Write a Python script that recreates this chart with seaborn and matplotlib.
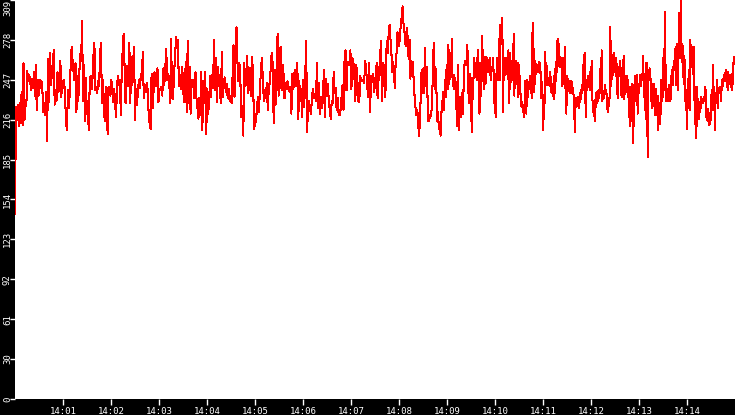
import numpy as np
import pandas as pd
import matplotlib
matplotlib.use('Agg')
import matplotlib.pyplot as plt
import matplotlib.dates as mdates
import seaborn as sns

# readings, one list per 2.5 minute slice (14:00:00 -> 14:15:00)
slice_1 = [143, 226, 220, 228, 211, 229, 214, 238, 212, 260, 216, 230, 227, 254, 246, 251, 247, 239, 248, 241,
           253, 235, 259, 224, 247, 235, 247, 241, 246, 239, 222, 229, 220, 238, 200, 263, 230, 268, 243, 252,
           260, 270, 228, 239, 231, 253, 238, 247, 262, 234, 246, 241, 247, 234, 215, 208, 239, 225, 238, 261,
           273, 261, 253, 247, 260, 222, 250, 231, 251, 267, 262, 293, 231, 259, 215, 249, 221, 231, 208, 242,
           250, 240, 248, 266, 276, 239, 242, 237, 246, 242, 266, 276, 229, 247, 227, 215, 242, 240, 205, 242,
           241, 235, 247, 239, 230, 240, 228, 218, 244, 250, 243, 247, 220, 256, 271, 283, 255, 229, 246, 258,
           242, 276, 229, 265, 243, 260, 273]
slice_2 = [216, 240, 228, 237, 247, 241, 252, 247, 269, 233, 242, 238, 245, 239, 221, 213, 209, 252, 225, 238,
           253, 242, 247, 256, 230, 240, 239, 242, 235, 256, 243, 255, 271, 247, 252, 247, 229, 279, 234, 232,
           253, 263, 280, 274, 278, 242, 250, 240, 257, 251, 230, 237, 261, 222, 277, 229, 257, 221, 246, 247,
           241, 233, 253, 233, 226, 217, 233, 220, 253, 208, 246, 229, 253, 205, 240, 221, 231, 250, 234, 251,
           241, 278, 239, 264, 230, 257, 247, 239, 229, 269, 234, 247, 249, 238, 244, 233, 240, 231, 235, 229,
           250, 274, 234, 269, 288, 261, 246, 260, 247, 218, 227, 204, 260, 242, 246, 266, 237, 242, 256, 235,
           265, 251, 209]
slice_3 = [213, 216, 225, 234, 222, 240, 254, 264, 247, 231, 239, 233, 245, 224, 241, 245, 256, 268, 259, 214,
           255, 228, 259, 283, 235, 261, 273, 239, 259, 252, 233, 245, 240, 246, 242, 238, 242, 221, 252, 240,
           252, 255, 242, 260, 217, 246, 231, 240, 218, 247, 226, 248, 277, 207, 230, 231, 224, 221, 235, 240,
           233, 234, 231, 260, 225, 245, 221, 234, 225, 231, 255, 218, 248, 235, 244, 231, 224, 217, 231, 229,
           253, 237, 241, 224, 233, 221, 220, 224, 234, 243, 224, 261, 270, 239, 261, 259, 259, 270, 240, 264,
           261, 251, 231, 259, 248, 231, 230, 250, 247, 246, 247, 245, 262, 255, 243, 234, 260, 222, 250, 246,
           252, 238]
slice_4 = [243, 253, 260, 233, 257, 247, 266, 277, 231, 260, 242, 259, 234, 268, 277, 268, 287, 290, 278, 268,
           253, 261, 252, 241, 263, 268, 284, 275, 273, 283, 290, 296, 304, 291, 286, 275, 273, 287, 278, 263,
           278, 248, 262, 260, 261, 242, 233, 225, 220, 224, 213, 204, 215, 235, 255, 237, 256, 237, 272, 242,
           257, 229, 215, 220, 218, 220, 228, 252, 276, 240, 257, 244, 215, 222, 209, 211, 204, 222, 229, 238,
           224, 247, 234, 259, 240, 274, 244, 257, 249, 279, 242, 251, 240, 249, 234, 211, 259, 208, 234, 229,
           218, 237, 221, 256, 260, 262, 259, 274, 240, 229, 252, 247, 207, 234, 247, 264, 249, 255, 247, 270,
           257, 221, 260, 235, 281, 260, 240, 265, 244, 265, 261, 253, 260, 264, 247, 257, 255, 264, 229]
slice_5 = [234, 218, 247, 264, 247, 259, 279, 247, 290, 281, 287, 295, 222, 259, 247, 264, 253, 257, 264, 248,
           270, 229, 268, 240, 262, 247, 261, 247, 283, 235, 259, 244, 262, 248, 260, 234, 259, 247, 238, 230,
           226, 230, 222, 225, 218, 246, 235, 221, 247, 234, 239, 242, 247, 250, 248, 233, 281, 291, 266, 238,
           262, 259, 252, 259, 256, 253, 261, 253, 260, 233, 246, 244, 208, 226, 217, 269, 243, 260, 253, 247,
           243, 248, 242, 253, 238, 240, 237, 244, 232, 250, 237, 261, 246, 277, 268, 279, 261, 257, 265, 261,
           262, 242, 264, 259, 244, 273, 231, 221, 250, 243, 248, 243, 237, 246, 242, 246, 237, 241, 234, 220,
           207, 233, 226, 230, 231, 234, 225, 237, 230, 239, 237, 237, 259, 239, 266, 268, 218, 244, 239, 250,
           242, 248, 239, 253, 241, 262, 233, 226, 221, 220, 215, 237, 226, 238, 231, 239, 233, 238, 256, 243,
           270, 231, 237, 233, 237, 243, 238, 238, 231, 222, 226, 230, 234, 288, 242, 259, 248, 261, 268, 256]
slice_6 = [262, 250, 264, 246, 233, 257, 252, 250, 262, 240, 234, 246, 252, 266, 232, 250, 239, 247, 250, 234,
           247, 218, 242, 211, 227, 234, 244, 198, 216, 241, 250, 231, 250, 251, 221, 239, 237, 246, 251, 242,
           252, 247, 266, 247, 237, 224, 260, 217, 260, 187, 255, 250, 256, 253, 231, 244, 225, 239, 244, 229,
           220, 240, 225, 220, 235, 208, 229, 224, 213, 247, 244, 231, 242, 271, 239, 300, 243, 231, 240, 234,
           231, 243, 234, 231, 235, 255, 252, 243, 262, 255, 265, 273, 243, 275, 239, 262, 299, 273, 264, 309,
           261, 275, 268, 244, 266, 253, 224, 239, 209, 231, 246, 255, 224, 278, 264, 273, 259, 252, 273, 238,
           213, 242, 202, 242, 229, 226, 217, 230, 222, 234, 231, 232, 229, 234, 231, 242, 239, 218, 217, 215,
           225, 212, 221, 213, 226, 239, 224, 259, 224, 242, 208, 237, 231, 247, 225, 239, 238, 242, 239, 231,
           242, 247, 242, 250, 251, 246, 255, 247, 250, 239, 253, 244, 248, 251, 248, 239, 252, 244, 265, 265]
slices = [slice_1, slice_2, slice_3, slice_4, slice_5, slice_6]

y_max = 309
y_ticks = [y_max * k / 10 for k in range(11)]
y_labels = [str(int(v)) for v in y_ticks]
minute_ticks = list(range(1, 15))

start = pd.Timestamp('2024-01-01 14:00:00')
parts = []
for i, vals in enumerate(slices):
    secs = 150 * i + np.arange(len(vals)) * 150 / len(vals)
    parts.append(pd.DataFrame({'time': start + pd.to_timedelta(secs, unit='s'), 'value': vals}))
df = pd.concat(parts, ignore_index=True)

fig = plt.figure(figsize=(7.35, 4.15), dpi=100, facecolor='black')
ax = fig.add_axes([15 / 735, 16 / 415, 720 / 735, 399 / 415])
ax.set_facecolor('white')

sns.lineplot(data=df, x='time', y='value', color='red', linewidth=0.75,
             estimator=None, antialiased=False, ax=ax)

ax.set_xlim(start, start + pd.Timedelta(minutes=15))
ax.set_ylim(0, y_max)
ax.set_xticks([start + pd.Timedelta(minutes=m) for m in minute_ticks])
ax.xaxis.set_major_formatter(mdates.DateFormatter('%H:%M'))
ax.set_yticks(y_ticks)
ax.set_yticklabels(y_labels)
ax.set_xlabel('')
ax.set_ylabel('')
ax.grid(False)
for s in ax.spines.values():
    s.set_visible(False)

ax.tick_params(colors='white', width=1, labelsize=6.5)
ax.tick_params(axis='x', length=4.3, pad=1.2)
ax.tick_params(axis='y', length=3.6, pad=-1.4, labelrotation=90)
for t in ax.get_xticklabels() + ax.get_yticklabels():
    t.set_fontfamily('DejaVu Sans Mono')
for t in ax.get_yticklabels():
    t.set_va('center')
ax.get_yticklabels()[-1].set_va('top')

fig.savefig('out.png', dpi=100, facecolor='black')
